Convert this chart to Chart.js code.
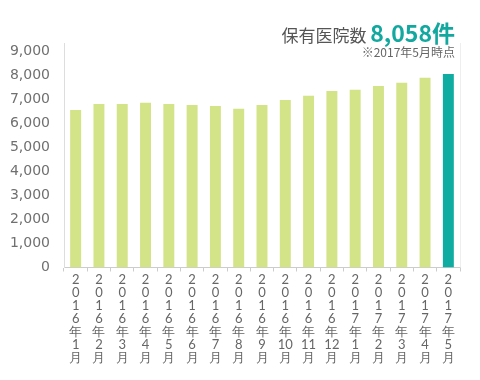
<!DOCTYPE html>
<html><head><meta charset="utf-8">
<script src="https://cdn.jsdelivr.net/npm/chart.js@4/dist/chart.umd.min.js"></script>
<style>
html,body{margin:0;padding:0;background:#fff;}
#wrap{position:relative;width:480px;height:380px;}
#t1{position:absolute;right:25px;top:18px;font-family:"Noto Sans CJK JP";white-space:nowrap;color:#555;font-size:17px;line-height:28px;}
#t1 b{color:#12a89f;font-size:23px;font-weight:bold;}
#t2{position:absolute;right:25px;top:44px;font-family:"Noto Sans CJK JP";color:#666;font-size:12px;line-height:16px;white-space:nowrap;}
canvas{position:absolute;left:0;top:0;}
</style></head>
<body><div id="wrap"><canvas id="c" width="480" height="380"></canvas>
<div id="t1">保有医院数 <b>8,058件</b></div>
<div id="t2">※2017年5月時点</div></div>
<script>
const months = ['2016年1月','2016年2月','2016年3月','2016年4月','2016年5月','2016年6月','2016年7月','2016年8月','2016年9月','2016年10月','2016年11月','2016年12月','2017年1月','2017年2月','2017年3月','2017年4月','2017年5月'];
const hospitals = [6560, 6810, 6810, 6860, 6810, 6770, 6730, 6610, 6770, 6980, 7150, 7350, 7400, 7560, 7690, 7900, 8058];
const yTicks = [0,1000,2000,3000,4000,5000,6000,7000,8000,9000];
const barColors = hospitals.map((v,i)=> i===hospitals.length-1 ? '#0faca2' : '#d3e387');

function vertical(s){
  const m = s.match(/^(\d{4})年(\d+)月$/);
  return m[1].split('').concat(['年', m[2], '月']);
}

new Chart(document.getElementById('c'), {
  type:'bar',
  data:{labels: months.map(vertical), datasets:[{data:hospitals, backgroundColor:barColors, barPercentage:0.94, categoryPercentage:0.5}]},
  options:{
    responsive:false, animation:false,
    layout:{padding:{top:43,right:20,left:0,bottom:0}},
    plugins:{legend:{display:false},tooltip:{enabled:false}},
    scales:{
      x:{
        grid:{drawOnChartArea:false, offset:true, tickLength:4, color:'#cccccc'},
        border:{color:'#cccccc'},
        ticks:{maxRotation:0, autoSkip:false, padding:2, color:'#666', font:{family:'Lato', size:13, lineHeight:1.0}},
        afterFit:(s)=>{s.height=112.5;}
      },
      y:{
        min:0, max:9350,
        afterBuildTicks:(s)=>{s.ticks = yTicks.map(v=>({value:v}));},
        grid:{display:false},
        border:{color:'#dddddd'},
        ticks:{padding:6, color:'#707070', font:{family:'DejaVu Sans', size:14}, callback:(v)=>v.toLocaleString('en-US')},
        afterFit:(s)=>{s.width=64;}
      }
    }
  },
  plugins:[{id:'rightLine', afterDraw(ch){const a=ch.chartArea,c=ch.ctx;c.save();c.strokeStyle='#eeeeee';c.lineWidth=1;c.beginPath();c.moveTo(a.right+0.5,a.top);c.lineTo(a.right+0.5,a.bottom);c.stroke();c.restore();}}]
});
</script></body></html>
